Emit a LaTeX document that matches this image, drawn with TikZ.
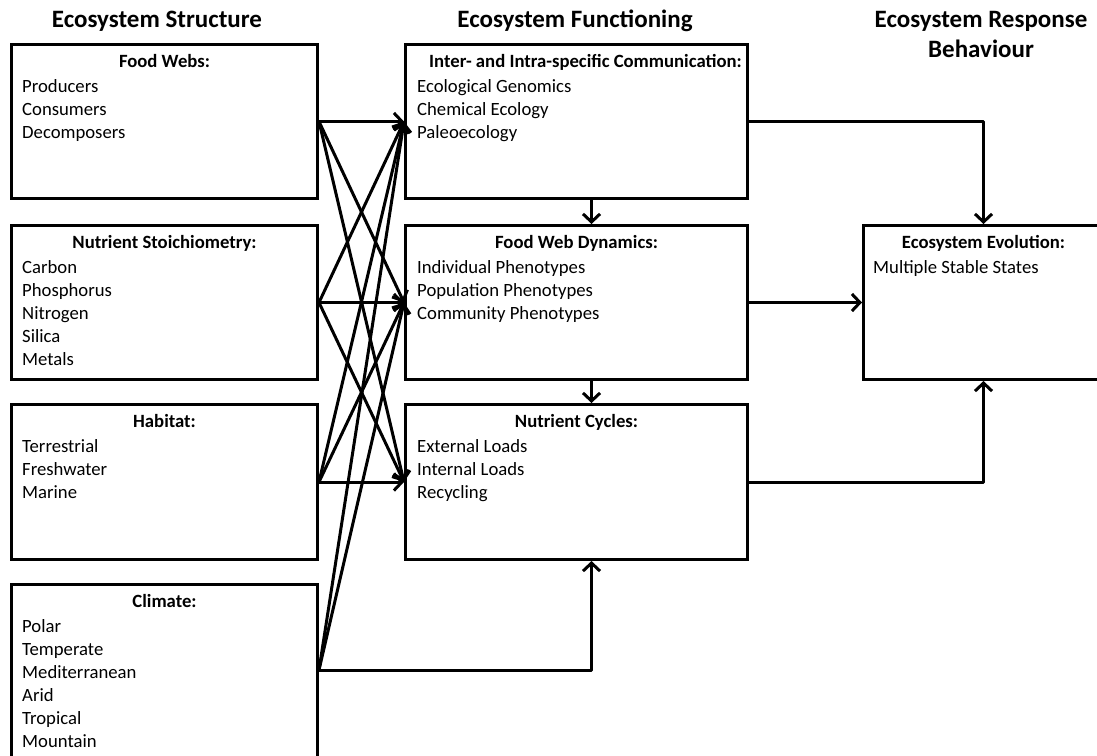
\documentclass[tikz,border=0pt]{standalone}
\usepackage{fontspec}
\setmainfont{Carlito}
\usetikzlibrary{arrows.meta,calc}
\newcommand{\lines}[1]{\begin{tabular}[t]{@{}l@{}}#1\end{tabular}}
\newcommand{\clines}[1]{\begin{tabular}[t]{@{}c@{}}#1\end{tabular}}
\begin{document}
\begin{tikzpicture}[x=1pt,y=-1pt,
  box/.style={draw, line width=3pt, rectangle, anchor=north west, inner sep=0pt},
  ttl/.style={anchor=base, inner sep=0pt, font=\fontsize{18.7}{23}\selectfont\bfseries},
  items/.style={anchor=base west, inner sep=0pt, font=\fontsize{18.7}{23}\selectfont},
  head/.style={anchor=base, inner sep=0pt, font=\fontsize{25}{30}\selectfont\bfseries},
  conn/.style={line width=3pt, line join=round, -{Straight Barb[length=8pt,width=17pt]}},
]
\clip (0,0) rectangle (1097,755);
% headers
\node[head] (h1) at (157,27) {Ecosystem Structure};
\node[head] (h2) at (575,27) {Ecosystem Functioning};
\node[head] (h3) at (981,27) {\clines{Ecosystem Response\\Behaviour}};
% left boxes
\node[box, minimum width=306pt, minimum height=154pt] (L1) at (10,43) {};
\node[box, minimum width=306pt, minimum height=154pt] (L2) at (10,224) {};
\node[box, minimum width=306pt, minimum height=155pt] (L3) at (10,403) {};
\node[box, minimum width=306pt, minimum height=220pt] (L4) at (10,583) {};
% middle boxes
\node[box, minimum width=342pt, minimum height=154pt] (M1) at (404,43) {};
\node[box, minimum width=342pt, minimum height=154pt] (M2) at (404,224) {};
\node[box, minimum width=342pt, minimum height=155pt] (M3) at (404,403) {};
% right box
\node[box, minimum width=240pt, minimum height=154pt] (R) at (862,224) {};
% texts
\node[ttl] (L1t) at ($(L1.north)+(0,24)$) {Food Webs:};
\node[items] (L1i) at ($(L1.north west)+(12,49)$) {\lines{Producers\\Consumers\\Decomposers}};
\node[ttl] (L2t) at ($(L2.north)+(0,24)$) {Nutrient Stoichiometry:};
\node[items] (L2i) at ($(L2.north west)+(12,49)$) {\lines{Carbon\\Phosphorus\\Nitrogen\\Silica\\Metals}};
\node[ttl] (L3t) at ($(L3.north)+(0,24)$) {Habitat:};
\node[items] (L3i) at ($(L3.north west)+(12,49)$) {\lines{Terrestrial\\Freshwater\\Marine}};
\node[ttl] (L4t) at ($(L4.north)+(0,24)$) {Climate:};
\node[items] (L4i) at ($(L4.north west)+(12,49)$) {\lines{Polar\\Temperate\\Mediterranean\\Arid\\Tropical\\Mountain}};
\node[ttl] (M1t) at ($(M1.north)+(9,24)$) {Inter- and Intra-specific Communication:};
\node[items] (M1i) at ($(M1.north west)+(13,49)$) {\lines{Ecological Genomics\\Chemical Ecology\\Paleoecology}};
\node[ttl] (M2t) at ($(M2.north)+(0,24)$) {Food Web Dynamics:};
\node[items] (M2i) at ($(M2.north west)+(13,49)$) {\lines{Individual Phenotypes\\Population Phenotypes\\Community Phenotypes}};
\node[ttl] (M3t) at ($(M3.north)+(0,24)$) {Nutrient Cycles:};
\node[items] (M3i) at ($(M3.north west)+(13,49)$) {\lines{External Loads\\Internal Loads\\Recycling}};
\node[ttl] (Rt) at ($(R.north)+(0,24)$) {Ecosystem Evolution:};
\node[items] (Ri) at ($(R.north west)+(11,49)$) {Multiple Stable States};
% coordinates
\coordinate (c4) at ($(L4.north east)+(0,87)$);
\coordinate (m1s) at ($(M1.south)+(15,0)$);
\coordinate (m2n) at ($(M2.north)+(15,0)$);
\coordinate (m2s) at ($(M2.south)+(15,0)$);
\coordinate (m3n) at ($(M3.north)+(15,0)$);
\coordinate (m3s) at ($(M3.south)+(15,0)$);
% crossing connectors
\foreach \s in {L1,L2,L3} {
  \foreach \t in {M1,M2,M3} {
    \draw[conn] (\s.east) -- (\t.west);
  }
}
\draw[conn] (c4) -- (M1.west);
\draw[conn] (c4) -- (M2.west);
\draw[conn] (c4) -| (m3s);
% middle vertical
\draw[conn] (m1s) -- (m2n);
\draw[conn] (m2s) -- (m3n);
% to right box
\draw[conn] (M1.east) -| (R.north);
\draw[conn] (M2.east) -- (R.west);
\draw[conn] (M3.east) -| (R.south);
\end{tikzpicture}
\end{document}
